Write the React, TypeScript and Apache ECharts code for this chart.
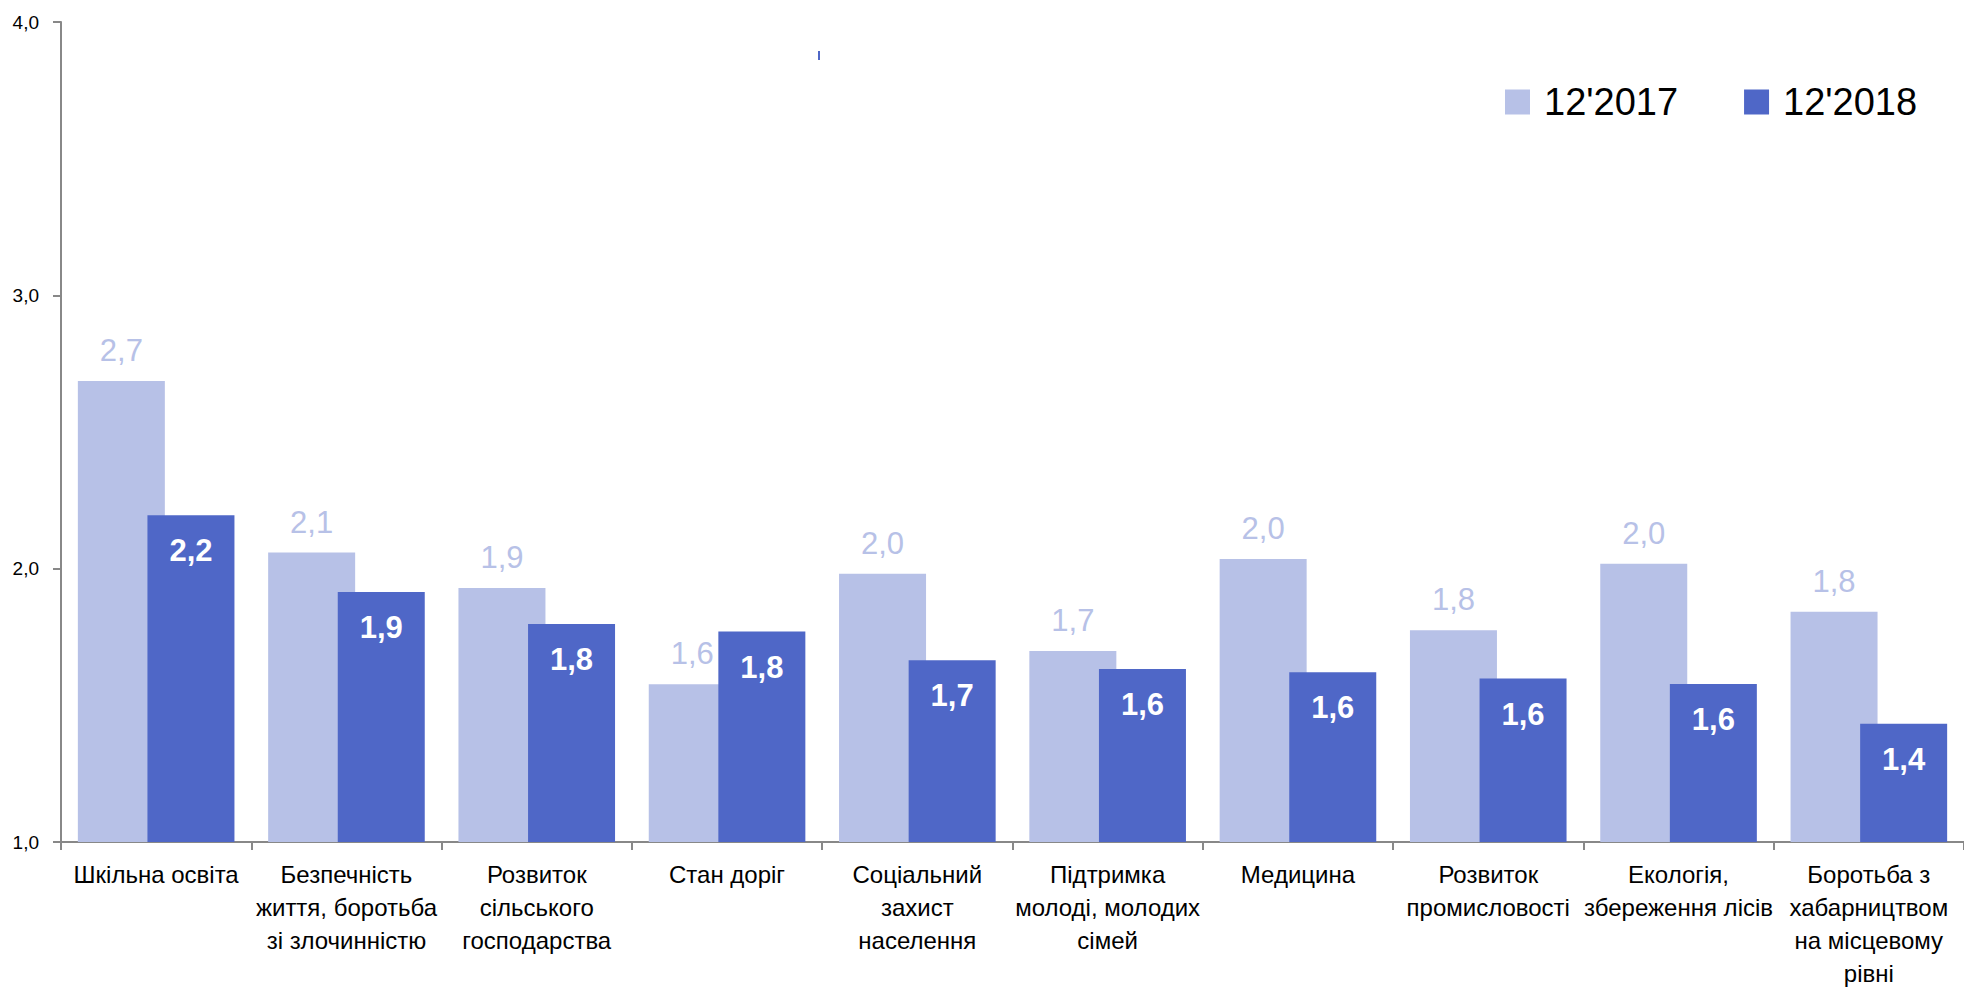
import React, { useEffect, useRef } from "react";
import * as echarts from "echarts";

const categories = [
  "Шкільна освіта",
  "Безпечність\nжиття, боротьба\nзі злочинністю",
  "Розвиток\nсільського\nгосподарства",
  "Стан доріг",
  "Соціальний\nзахист\nнаселення",
  "Підтримка\nмолоді, молодих\nсімей",
  "Медицина",
  "Розвиток\nпромисловості",
  "Екологія,\nзбереження лісів",
  "Боротьба з\nхабарництвом\nна місцевому\nрівні",
];
const series2017 = [2.687, 2.059, 1.929, 1.577, 1.981, 1.699, 2.035, 1.775, 2.018, 1.842];
const series2018 = [2.195, 1.915, 1.798, 1.77, 1.665, 1.633, 1.621, 1.598, 1.578, 1.433];
const seriesNames = ["12'2017", "12'2018"];
const yTicks = { min: 1, max: 4, interval: 1 };

const FONT = "'Liberation Sans', Arial, sans-serif";
const LIGHT = "#b7c1e7";
const DARK = "#4f67c7";
const fmt = (v: number) => v.toFixed(1).replace(".", ",");

export default function App() {
  const ref = useRef<HTMLDivElement>(null);
  useEffect(() => {
    if (!ref.current) return;
    const chart = echarts.init(ref.current, undefined, { renderer: "svg" });
    chart.setOption({
      animation: false,
      backgroundColor: "#ffffff",
      textStyle: { fontFamily: FONT },
      legend: {
        data: seriesNames,
        left: 1500,
        top: 78,
        padding: 5,
        itemWidth: 25,
        itemHeight: 25,
        itemGap: 66,
        icon: "rect",
        textStyle: { fontFamily: FONT, fontSize: 38, color: "#000", padding: [0, 0, 0, 9] },
      },
      grid: { left: 61, right: -7, top: 22, bottom: 150 },
      xAxis: {
        type: "category",
        data: categories,
        axisLine: { lineStyle: { color: "#888", width: 2 } },
        axisTick: { show: true, length: 8, lineStyle: { color: "#888", width: 2 } },
        axisLabel: {
          interval: 0,
          margin: 16,
          color: "#000",
          fontFamily: FONT,
          fontSize: 24,
          lineHeight: 33,
        },
      },
      yAxis: {
        type: "value",
        min: yTicks.min,
        max: yTicks.max,
        interval: yTicks.interval,
        splitLine: { show: false },
        axisLine: { show: true, lineStyle: { color: "#888", width: 2 } },
        axisTick: { show: true, length: 8, lineStyle: { color: "#888", width: 2 } },
        axisLabel: {
          margin: 22,
          color: "#000",
          fontFamily: FONT,
          fontSize: 19,
          formatter: (v: number) => fmt(v),
        },
      },
      series: [
        {
          name: seriesNames[0],
          type: "bar",
          data: series2017,
          barWidth: 87,
          barGap: "-20%",
          itemStyle: { color: LIGHT },
          label: {
            show: true,
            position: "top",
            distance: 15,
            color: LIGHT,
            fontFamily: FONT,
            fontSize: 31,
            formatter: (p: any) => fmt(p.value),
          },
        },
        {
          name: seriesNames[1],
          type: "bar",
          data: series2018,
          barWidth: 87,
          barGap: "-20%",
          itemStyle: { color: DARK },
          label: {
            show: true,
            position: "insideTop",
            distance: 20,
            color: "#fff",
            fontWeight: "bold",
            fontFamily: FONT,
            fontSize: 31,
            formatter: (p: any) => fmt(p.value),
          },
        },
      ],
      graphic: [
        {
          type: "line",
          shape: { x1: 819, y1: 51, x2: 819, y2: 60 },
          style: { stroke: DARK, lineWidth: 2 },
        },
      ],
    });
    return () => chart.dispose();
  }, []);
  return (
    <div
      ref={ref}
      style={{ position: "fixed", left: 0, top: 0, width: 1964, height: 992, background: "#fff" }}
    />
  );
}
